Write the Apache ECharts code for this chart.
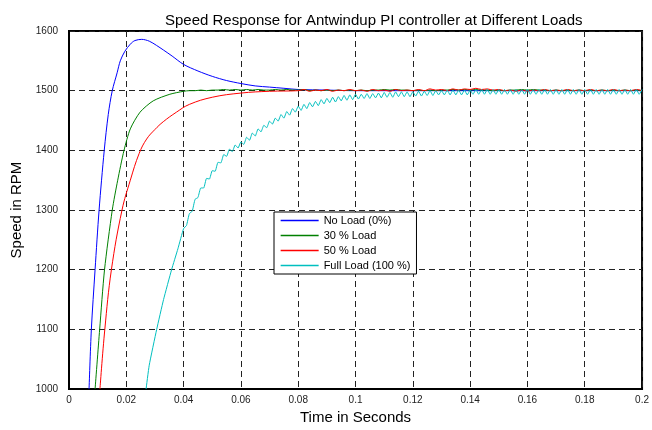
<!DOCTYPE html>
<html>
<head>
<meta charset="utf-8">
<script src="https://cdn.jsdelivr.net/npm/echarts@6/dist/echarts.min.js"></script>
<style>
  html, body { margin: 0; padding: 0; background: #fff; }
  #chart { width: 652px; height: 430px; }
</style>
</head>
<body>
<div id="chart"></div>
<script>
// series labels
const seriesNames = ['No Load (0%)', '30 % Load', '50 % Load', 'Full Load (100 %)'];

// x ticks (s) and y ticks (RPM)
const xTicks = [0, 0.02, 0.04, 0.06, 0.08, 0.1, 0.12, 0.14, 0.16, 0.18, 0.2];
const yTicks = [1000, 1100, 1200, 1300, 1400, 1500, 1600];

// no load: [time, rpm]
const noLoad = [
  [0.0070, 1000], [0.0078, 1100], [0.0091, 1200], [0.0105, 1300], [0.0123, 1400],
  [0.0137, 1460], [0.0151, 1500], [0.0168, 1530], [0.0179, 1550], [0.0195, 1566],
  [0.0214, 1578], [0.0230, 1584], [0.0254, 1586], [0.0280, 1583], [0.0305, 1576],
  [0.0330, 1568], [0.0360, 1558], [0.0400, 1544], [0.0450, 1533], [0.0500, 1524],
  [0.0550, 1517], [0.0600, 1512], [0.0650, 1508], [0.0700, 1506], [0.0750, 1504],
  [0.0800, 1502], [0.0900, 1501], [0.1000, 1500], [0.1400, 1500], [0.2000, 1500]
];

// 30 % load: rise then sampled tail
const load30Rise = [
  [0.0091, 1000], [0.0107, 1100], [0.0124, 1200], [0.0151, 1300], [0.0170, 1350],
  [0.0192, 1400], [0.0214, 1436], [0.0248, 1464], [0.0294, 1483], [0.0352, 1494]
];
const load30Tail = [
  1499, 1500, 1500, 1501, 1500, 1501, 1501, 1502, 1501, 1502,
  1501, 1502, 1501, 1502, 1501, 1501, 1502, 1501, 1502, 1501,
  1501, 1502, 1500, 1501, 1500, 1501, 1500, 1501, 1500, 1501,
  1500, 1501, 1500, 1501, 1501, 1502, 1501, 1502, 1501, 1501,
  1500, 1501, 1500, 1501, 1500, 1501, 1501, 1502, 1501, 1502,
  1501, 1502, 1501, 1501, 1500, 1501, 1500, 1501, 1501, 1502,
  1501, 1502, 1501, 1501, 1500, 1501, 1500, 1501, 1500, 1501,
  1500, 1501, 1500, 1501, 1500, 1501, 1500, 1501, 1500, 1501,
  1500
];
const load30TailStart = 0.040;
const load30TailStep = 0.002;

// 50 % load
const load50Rise = [
  [0.0108, 1000], [0.0125, 1100], [0.0148, 1200], [0.0185, 1300], [0.0214, 1350],
  [0.0245, 1395], [0.0271, 1419], [0.0300, 1435], [0.0329, 1448], [0.0375, 1464],
  [0.0420, 1477], [0.0500, 1489], [0.0600, 1496], [0.0700, 1499]
];
const load50Tail = [
  1500, 1502, 1499, 1501, 1500, 1502, 1499, 1501, 1500, 1502,
  1500, 1501, 1499, 1502, 1500, 1501, 1499, 1502, 1500, 1501,
  1500, 1502, 1500, 1503, 1501, 1502, 1500, 1503, 1501, 1503,
  1502, 1504, 1502, 1503, 1501, 1502, 1500, 1501, 1499, 1501,
  1499, 1501, 1500, 1502, 1500, 1501, 1500, 1502, 1500, 1501,
  1500, 1502, 1500, 1501, 1500, 1502, 1500, 1501, 1500, 1502,
  1500
];
const load50TailStart = 0.080;
const load50TailStep = 0.002;

// full load
const fullRise = [
  [0.0269, 1000], [0.0280, 1040], [0.0306, 1100], [0.0330, 1150], [0.0358, 1200],
  [0.0380, 1235]
];
const fullTail = [
  1269, 1274, 1294, 1298, 1318, 1321, 1337, 1337, 1353, 1352,
  1366, 1365, 1380, 1379, 1393, 1390, 1402, 1398, 1409, 1404,
  1414, 1410, 1422, 1417, 1429, 1424, 1436, 1431, 1442, 1438,
  1449, 1444, 1454, 1449, 1460, 1454, 1465, 1459, 1470, 1464,
  1474, 1467, 1477, 1470, 1480, 1473, 1482, 1475, 1485, 1478,
  1487, 1480, 1489, 1481, 1490, 1483, 1492, 1484, 1493, 1485,
  1494, 1486, 1494, 1487, 1495, 1487, 1495, 1488, 1496, 1488,
  1497, 1489, 1497, 1489, 1498, 1490, 1498, 1490, 1498, 1490,
  1498, 1491, 1499, 1491, 1499, 1492, 1500, 1492, 1500, 1493,
  1500, 1493, 1501, 1493, 1501, 1493, 1501, 1493, 1501, 1493,
  1501, 1494, 1502, 1494, 1502, 1494, 1502, 1494, 1502, 1494,
  1502, 1494, 1502, 1494, 1502, 1494, 1502, 1494, 1502, 1494,
  1502, 1494, 1502, 1494, 1502, 1494, 1502, 1494, 1502, 1494,
  1502, 1494, 1502, 1494, 1502, 1494, 1502, 1494, 1502, 1494,
  1502, 1494, 1502, 1494, 1502, 1494, 1502, 1494, 1502, 1494,
  1502, 1494, 1502, 1494, 1502, 1494, 1502, 1494, 1502, 1494,
  1502
];
const fullTailStart = 0.040;
const fullTailStep = 0.001;

const colors = ['#0000ff', '#008000', '#ff0000', '#00bfbf'];
const smoothing = [0.3, 0.25, 0.4, 0.15];

function withTail (rise, tail, start, step) {
  const out = rise.slice();
  tail.forEach((v, i) => out.push([+(start + i * step).toFixed(4), v]));
  return out;
}

const seriesData = [
  noLoad,
  withTail(load30Rise, load30Tail, load30TailStart, load30TailStep),
  withTail(load50Rise, load50Tail, load50TailStart, load50TailStep),
  withTail(fullRise, fullTail, fullTailStart, fullTailStep)
];

const font = 'Liberation Sans, Arial, sans-serif';
const gridDash = { color: '#222', width: 1, type: [6, 4] };

const chart = echarts.init(document.getElementById('chart'));
chart.setOption({
  animation: false,
  backgroundColor: '#fff',
  title: {
    text: 'Speed Response for Antwindup PI controller at Different Loads',
    left: 160,
    top: 8,
    textStyle: { fontFamily: font, fontSize: 15, fontWeight: 'normal', color: '#000' }
  },
  legend: {
    data: seriesNames,
    orient: 'vertical',
    left: 274,
    top: 212,
    padding: [3, 6, 3, 6],
    itemWidth: 38,
    itemHeight: 10,
    itemGap: 4,
    itemStyle: { opacity: 0 },
    lineStyle: { width: 1.3 },
    backgroundColor: '#fff',
    borderColor: '#000',
    borderWidth: 1,
    borderRadius: 0,
    textStyle: { fontFamily: font, fontSize: 11, color: '#000' }
  },
  grid: {
    left: 69, right: 6, top: 31, bottom: 36,
    show: true, borderColor: '#000', borderWidth: 2
  },
  xAxis: {
    type: 'value',
    min: xTicks[0],
    max: xTicks[xTicks.length - 1],
    interval: 0.02,
    name: 'Time in Seconds',
    nameLocation: 'middle',
    nameGap: 17,
    nameTextStyle: { fontFamily: font, fontSize: 15, color: '#000' },
    axisLine: { lineStyle: { color: '#000', width: 2 } },
    axisTick: { show: false },
    axisLabel: {
      fontFamily: font, fontSize: 10, color: '#222', margin: 6,
      formatter: v => String(+v.toFixed(2))
    },
    splitLine: { show: true, lineStyle: gridDash }
  },
  yAxis: {
    type: 'value',
    min: yTicks[0],
    max: yTicks[yTicks.length - 1],
    interval: 100,
    name: 'Speed in RPM',
    nameLocation: 'middle',
    nameGap: 41,
    nameTextStyle: { fontFamily: font, fontSize: 15, color: '#000' },
    axisLine: { show: true, lineStyle: { color: '#000', width: 2 } },
    axisTick: { show: false },
    axisLabel: {
      fontFamily: font, fontSize: 10, color: '#222', margin: 11,
      formatter: v => String(v)
    },
    splitLine: { show: true, lineStyle: gridDash }
  },
  series: seriesNames.map((name, i) => ({
    name: name,
    type: 'line',
    data: seriesData[i],
    symbol: 'none',
    smooth: smoothing[i],
    clip: true,
    lineStyle: { color: colors[i], width: 1 },
    itemStyle: { color: colors[i] },
    z: 2 + i
  }))
});
</script>
</body>
</html>
